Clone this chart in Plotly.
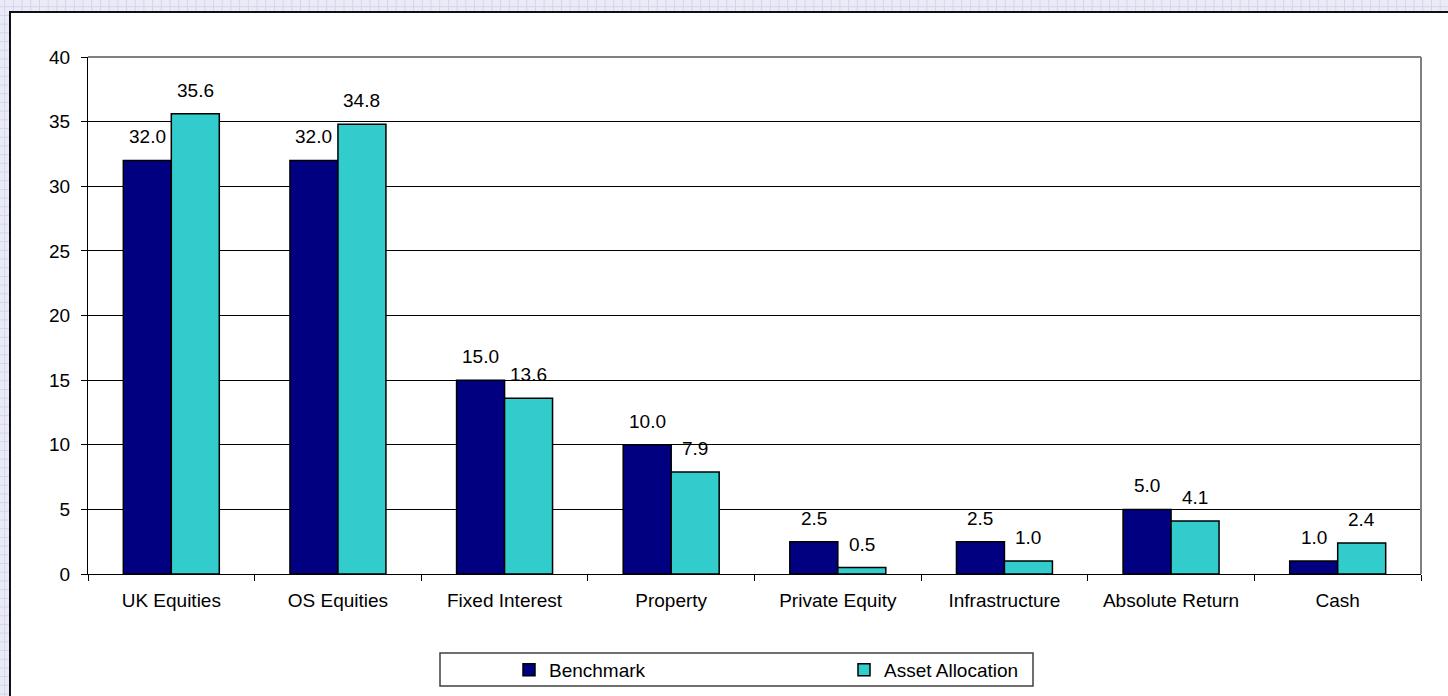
import plotly.graph_objects as go

categories = ["UK Equities", "OS Equities", "Fixed Interest", "Property",
              "Private Equity", "Infrastructure", "Absolute Return", "Cash"]
benchmark = [32.0, 32.0, 15.0, 10.0, 2.5, 2.5, 5.0, 1.0]
asset_allocation = [35.6, 34.8, 13.6, 7.9, 0.5, 1.0, 4.1, 2.4]
series_names = ["Benchmark", "Asset Allocation"]
y_ticks = [0, 5, 10, 15, 20, 25, 30, 35, 40]

W, H = 1448, 696
ML, MR, MT, MB = 88, 27, 57, 122
PW, PH = W - ML - MR, H - MT - MB
FONT = "Liberation Sans, Arial, sans-serif"
FS = 19


def px_x(p):
    return (p - ML) / PW


def px_y(p):
    return (H - MB - p) / PH


fig = go.Figure()
colors = ["#000080", "#33CCCC"]
for name, vals, col in zip(series_names, [benchmark, asset_allocation], colors):
    fig.add_trace(go.Bar(
        x=categories, y=vals, name=name,
        marker=dict(color=col, line=dict(color="black", width=1.5)),
    ))

# data labels
half = PW / len(categories) * (1 - 0.424) / 4
annotations = []
for vals, shift in zip([benchmark, asset_allocation], [-half, half]):
    for c, v in zip(categories, vals):
        annotations.append(dict(
            x=c, y=v, xref="x", yref="y", text=f"{v:.1f}", showarrow=False,
            xshift=shift, yshift=11, yanchor="bottom",
            font=dict(family=FONT, size=FS, color="black"),
        ))

shapes = []
# lavender grid page background
step = 8.7
gx = 4.7
while gx < W:
    shapes.append(dict(type="line", xref="paper", yref="paper",
                       x0=px_x(gx), x1=px_x(gx), y0=px_y(0), y1=px_y(H),
                       line=dict(color="#d4d4ef", width=1), layer="below"))
    gx += step
gy = 6.7
while gy < H:
    shapes.append(dict(type="line", xref="paper", yref="paper",
                       x0=px_x(0), x1=px_x(W), y0=px_y(gy), y1=px_y(gy),
                       line=dict(color="#d4d4ef", width=1), layer="below"))
    gy += step
# white chart area
shapes.append(dict(type="rect", xref="paper", yref="paper",
                   x0=px_x(10), x1=px_x(W + 20), y0=px_y(12), y1=px_y(H + 20),
                   fillcolor="white", line=dict(color="#101010", width=2), layer="below"))
# gray top/right plot border
shapes.append(dict(type="line", xref="paper", yref="paper", x0=0, x1=1, y0=1, y1=1,
                   line=dict(color="#808080", width=2), layer="above"))
shapes.append(dict(type="line", xref="paper", yref="paper", x0=1, x1=1, y0=0, y1=1,
                   line=dict(color="#808080", width=2), layer="above"))
# legend box
shapes.append(dict(type="rect", xref="paper", yref="paper",
                   x0=px_x(440), x1=px_x(1033), y0=px_y(653), y1=px_y(686),
                   fillcolor="rgba(0,0,0,0)", line=dict(color="#404040", width=1.5),
                   layer="above"))

fig.update_layout(
    width=W, height=H,
    margin=dict(l=ML, r=MR, t=MT, b=MB, autoexpand=False),
    paper_bgcolor="#ebebf8",
    plot_bgcolor="white",
    barmode="group", bargap=0.424, bargroupgap=0,
    font=dict(family=FONT, size=FS, color="black"),
    showlegend=True,
    legend=dict(orientation="h", x=px_x(509), xanchor="left",
                y=px_y(670), yanchor="middle",
                entrywidth=290, entrywidthmode="pixels",
                bgcolor="rgba(0,0,0,0)", borderwidth=0,
                font=dict(family=FONT, size=FS, color="black")),
    annotations=annotations,
    shapes=shapes,
    xaxis=dict(type="category", showline=True, linecolor="black", linewidth=1,
               ticks="outside", tickson="boundaries", ticklen=6, tickcolor="black",
               showgrid=False, ticklabelstandoff=9,
               tickfont=dict(family=FONT, size=FS, color="black")),
    yaxis=dict(range=[0, 40], tickvals=y_ticks, showline=True, linecolor="black",
               linewidth=1, ticks="outside", ticklen=6, tickcolor="black",
               showgrid=True, gridcolor="black", gridwidth=1, zeroline=False,
               ticklabelstandoff=7,
               tickfont=dict(family=FONT, size=FS, color="black")),
)

fig.write_html("out.html", config={"displayModeBar": False},
               post_script="document.body.style.margin='0';")
